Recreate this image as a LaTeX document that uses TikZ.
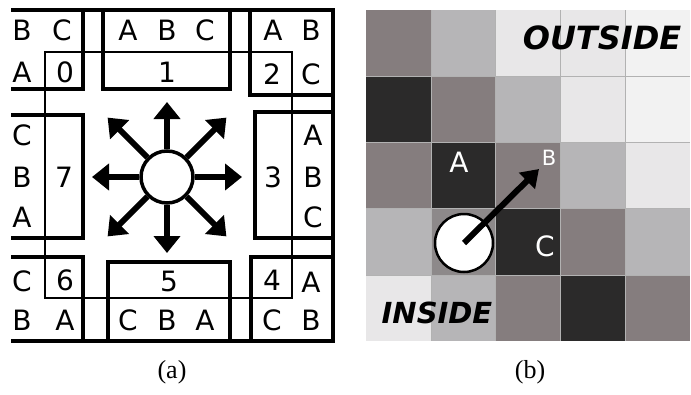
\documentclass[tikz,border=0pt]{standalone}
\usepackage{fontspec}
\setmainfont{Liberation Serif}
\newfontfamily\glyphfont{DejaVu Sans}
\usetikzlibrary{arrows.meta}

\definecolor{cellDk}{HTML}{2B2A2A}
\definecolor{cellMd}{HTML}{857D7E}
\definecolor{cellMg}{HTML}{8D898A}
\definecolor{cellLt}{HTML}{B6B5B7}
\definecolor{cellVl}{HTML}{E8E7E8}
\definecolor{cellWl}{HTML}{F2F2F2}

\tikzset{
  block/.style={draw, line width=3.2pt},
  zone/.style={draw, line width=2.8pt},
  tag/.style={font=\glyphfont\fontsize{28}{28}\selectfont, inner sep=0pt},
  sign/.style={font=\glyphfont\bfseries\itshape\fontsize{29}{29}\selectfont, inner sep=0pt},
  caption/.style={font=\fontsize{26}{26}\selectfont, inner sep=0pt},
  hubdisc/.style={circle, draw, fill=white, line width=3.5pt, minimum size=52pt, inner sep=0pt},
  ray/.style={line width=6pt, -{Triangle[length=17pt,width=26pt]}},
  gridline/.style={black!30, line width=0.6pt}
}

\begin{document}
\begin{tikzpicture}[x=1pt, y=-1pt]
\useasboundingbox (0,0) rectangle (691,394);

% (a) neighbour zones
\begin{scope}
\clip (11,10) rectangle (333,341);
\foreach \xa/\ya/\xb/\yb in {0/0/83/89, 103/0/230/89, 250/0/340/95,
    0/115/83/238, 255/112/340/238,
    0/257/83/350, 108/262/230/350, 251/257/340/350}
  \draw[block] (\xa,\ya) rectangle (\xb,\yb);
\draw[zone] (45,52) rectangle (292,298);
\end{scope}
\draw[line width=4pt] (11,10) -- (333,10) -- (333,341) -- (11,341);

\foreach \x/\y/\t [count=\i] in {
    22/30/B, 62/30/C, 22/72/A, 65/72/0,
    128/30/A, 167/30/B, 205/30/C, 167/72/1,
    273/30/A, 311/30/B, 272/74/2, 311/74/C,
    22/135/C, 22/177/B, 22/217/A, 64/177/7,
    273/177/3, 313/135/A, 313/177/B, 313/217/C,
    22/281/C, 65/280/6, 22/320/B, 65/320/A,
    169/281/5, 128/320/C, 167/320/B, 205/320/A,
    272/280/4, 311/282/A, 272/320/C, 311/320/B}
  \node[tag] (zl\i) at (\x,\y) {\t};

\node[hubdisc] (hub) at (167,177) {};
\foreach \a/\l in {0/75, 45/84, 90/76, 135/84, 180/75, 225/84, 270/75, 315/84} {
  \path (hub.center) ++(\a:\l) coordinate (tip\a);
  \draw[ray] (hub) -- (tip\a);
}

% (b) intensity cells
\foreach \shade [count=\i from 0] in {
    cellMd, cellLt, cellVl, cellVl, cellWl,
    cellDk, cellMd, cellLt, cellVl, cellWl,
    cellMd, cellDk, cellMd, cellLt, cellVl,
    cellLt, cellMg, cellDk, cellMd, cellLt,
    cellVl, cellLt, cellMd, cellDk, cellMd} {
  \pgfmathtruncatemacro\cx{mod(\i,5)}
  \pgfmathtruncatemacro\cy{div(\i,5)}
  \fill[\shade] (366+64.8*\cx, 10+66.2*\cy) rectangle ++(64.8,66.2);
}
\foreach \k in {1,...,4} {
  \draw[gridline] (366+64.8*\k,10) -- (366+64.8*\k,341);
  \draw[gridline] (366,10+66.2*\k) -- (690,10+66.2*\k);
}

\node[sign, font=\glyphfont\bfseries\itshape\fontsize{32}{32}\selectfont] (outside) at (602,38) {OUTSIDE};
\node[sign] (inside) at (437,313) {INSIDE};

\node[tag, white] (cellA) at (459,162) {A};
\node[tag, white, font=\glyphfont\fontsize{21}{21}\selectfont] (cellB) at (549,158) {B};
\node[tag, white] (cellC) at (545,246) {C};

\node[hubdisc, line width=2.5pt, minimum size=58pt] (pebble) at (464,243) {};
\coordinate (aim) at (539,169);
\draw[ray, line width=6pt, -{Triangle[length=17pt,width=22pt]}] (pebble.center) -- (aim);

\node[caption] (capA) at (172,372) {(a)};
\node[caption] (capB) at (530,372) {(b)};

\end{tikzpicture}
\end{document}
